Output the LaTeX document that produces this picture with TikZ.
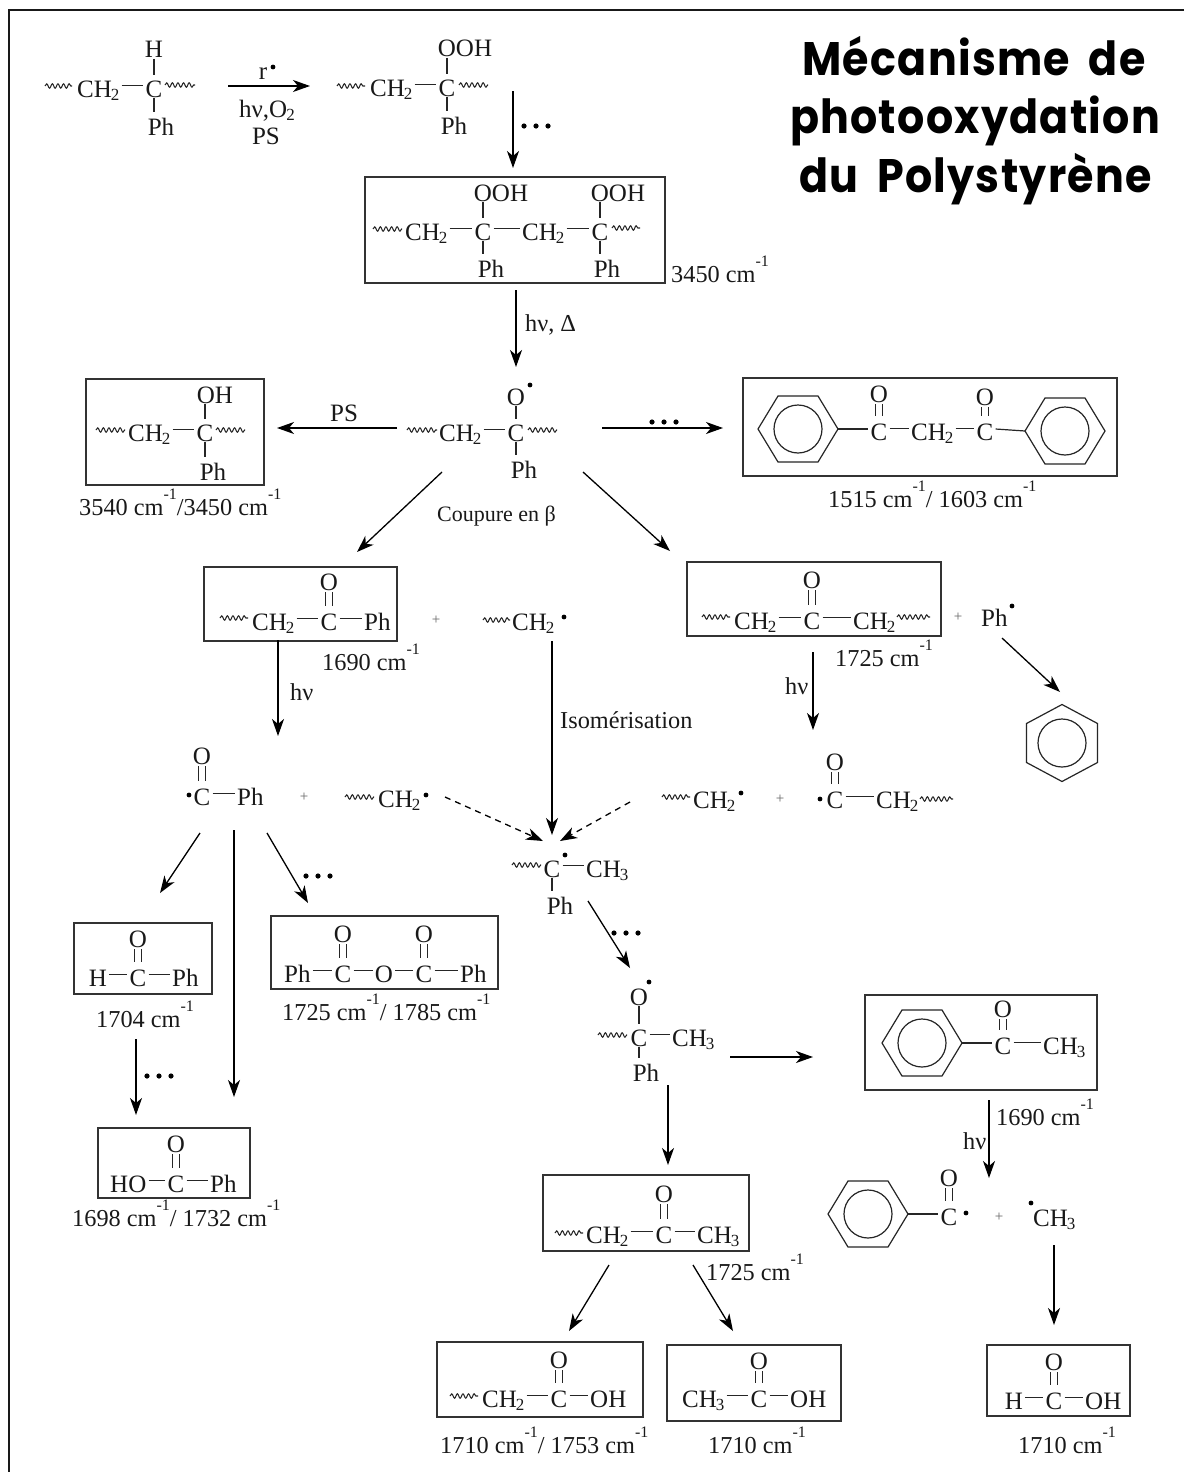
\documentclass[tikz,border=0pt]{standalone}
\usepackage{fontspec}
\setmainfont{Liberation Serif}
\newfontfamily\ttlfont{Poppins}[LetterSpace=3]
\usetikzlibrary{arrows.meta,decorations.pathmorphing,calc}
\tikzset{
  atom/.style={anchor=base,inner sep=0pt,text height=15pt,text depth=0pt,text=black!90,font=\fontsize{25}{28}\selectfont},
  lbl/.style={anchor=base west,inner sep=0pt,text height=15pt,text depth=0pt,text=black!90,font=\fontsize{24.3}{28}\selectfont},
  bond/.style={line width=1.2pt,draw=black!85},
  wav/.style={line width=1.05pt,draw=black!85,decorate,decoration={snake,amplitude=2.2pt,segment length=5.6pt}},
  arr/.style={line width=1.3pt,draw=black,-{Stealth[length=17pt,width=12pt,inset=5pt]}},
  rbox/.style={draw=black!80,line width=1.5pt,inner sep=0pt},
  plusm/.style={anchor=center,inner sep=0pt,text=black!60,font=\fontsize{15}{15}\selectfont},
  ttl/.style={anchor=base,inner sep=0pt,font=\ttlfont\bfseries\fontsize{47}{50}\selectfont},
}
\newcommand\A[4]{\node[atom] (#1) at (#2,#3) {#4};}
\newcommand\AL[4]{\node[atom,anchor=base west] (#1) at (#2,#3) {#4};}
\newcommand\LL[4]{\node[lbl] (#1) at (#2,#3) {#4};}
\newcommand\HB[2]{\draw[bond] ($(#1.base east)+(2pt,11.5pt)$) -- ($(#2.base west)+(-2pt,11.5pt)$);}
\newcommand\UB[2]{\draw[bond] ($(#2.base |- #1.base)+(0pt,-1pt)$) -- ($(#2.base)+(0pt,22pt)$);}
\newcommand\LB[2]{\draw[bond] ($(#1.base)+(0pt,-1pt)$) -- ($(#1.base |- #2.base)+(0pt,23pt)$);}
\newcommand\DB[2]{%
  \draw[bond] ($(#2.base |- #1.base)+(-3.5pt,-2pt)$) -- ($(#2.base)+(-3.5pt,24pt)$);
  \draw[bond] ($(#2.base |- #1.base)+(3.5pt,-2pt)$) -- ($(#2.base)+(3.5pt,24pt)$);}
\newcommand\Rad[2]{\fill[black] (#1,#2) circle[radius=2.4pt];}
\newcommand\Dts[2]{\fill[black] (#1,#2) circle[radius=2.6pt] ({#1+12},#2) circle[radius=2.6pt] ({#1+24},#2) circle[radius=2.6pt];}
\newcommand\Wv[3]{\draw[wav] (#1,#3) -- (#2,#3);}
\newcommand\Ar[5]{\coordinate (#1a) at (#2,#3); \coordinate (#1b) at (#4,#5); \draw[arr] (#1a) -- (#1b);}
\newcommand\ArD[5]{\coordinate (#1a) at (#2,#3); \coordinate (#1b) at (#4,#5); \draw[arr,dash pattern=on 6pt off 5pt] (#1a) -- (#1b);}
\newcommand\Bx[5]{\node[rbox,minimum width={(#4-#2)*1pt},minimum height={(#5-#3)*1pt}] (#1) at ({(#2+#4)/2},{(#3+#5)/2}) {};}
\newcommand\BzF[3]{% flat top
  \draw[bond] ({#2-40},#3) -- ({#2-20},{#3-33}) -- ({#2+20},{#3-33}) -- ({#2+40},#3) -- ({#2+20},{#3+33}) -- ({#2-20},{#3+33}) -- cycle;
  \node[circle,draw=black!85,line width=1.2pt,minimum size=48pt,inner sep=0pt] (#1) at (#2,#3) {};
  \coordinate (#1l) at ({#2-40},#3); \coordinate (#1r) at ({#2+40},#3);}
\newcommand\BzP[3]{% pointed top
  \draw[bond] (#2,{#3-38.5}) -- ({#2+35.5},{#3-19.5}) -- ({#2+35.5},{#3+19.5}) -- (#2,{#3+38.5}) -- ({#2-35.5},{#3+19.5}) -- ({#2-35.5},{#3-19.5}) -- cycle;
  \node[circle,draw=black!85,line width=1.2pt,minimum size=48pt,inner sep=0pt] (#1) at (#2,#3) {};}
\newcommand\CHt{CH\kern-1pt\raisebox{-3pt}{\fontsize{17}{17}\selectfont 2}}
\newcommand\CHh{CH\kern-1pt\raisebox{-3pt}{\fontsize{17}{17}\selectfont 3}}
\newcommand\wn{cm\raisebox{16pt}{\fontsize{16}{16}\selectfont -1}}
\begin{document}
\begin{tikzpicture}[x=1pt,y=-1pt]
\useasboundingbox (0,0) rectangle (1184,1472);
\fill[white] (0,0) rectangle (1184,1472);
% open frame: top and left only
\coordinate (fa) at (1184,10); \coordinate (fb) at (9,10); \coordinate (fc) at (9,1472);
\draw[line width=2pt,black!90] (fa) -- (fb) -- (fc);
% title
\node[ttl] (t1) at (974,75) {\scalebox{.91}[1]{Mécanisme\hspace{.2em} de}};
\node[ttl] (t2) at (975,133) {\scalebox{.91}[1]{photooxydation}};
\node[ttl] (t3) at (975.5,192) {\scalebox{.91}[1]{du\hspace{.2em} Polystyrène}};

% molecule 1
\Wv{45}{72}{86}
\AL{a1}{77}{97}{\CHt}
\A{a2}{154}{97}{C}
\A{a3}{154}{58}{H}
\A{a4}{161}{135}{Ph}
\HB{a1}{a2}
\UB{a3}{a2}
\LB{a2}{a4}
\Wv{165}{195}{85}
% arrow 1
\Ar{r1}{228}{86}{310}{86}
\A{r1t}{263}{80}{r}
\Rad{273}{67}
\A{r1u}{267}{117}{hν,O\kern-1pt\raisebox{-3pt}{\fontsize{17}{17}\selectfont 2}}
\A{r1v}{266}{144}{PS}

% molecule 2
\Wv{337}{365}{86}
\AL{b1}{370}{96}{\CHt}
\A{b2}{447}{96}{C}
\A{b3}{465}{57}{OOH}
\A{b4}{454}{134}{Ph}
\HB{b1}{b2}
\UB{b3}{b2}
\LB{b2}{b4}
\Wv{459}{488}{85}
\Ar{r2}{513}{91}{513}{168}
\Dts{524}{126}

% box OOH
\Bx{c0}{365}{177}{665}{283}
\Wv{373}{402}{229}
\AL{c1}{405}{240}{\CHt}
\A{c2}{483}{240}{C}
\AL{c3}{522}{240}{\CHt}
\A{c4}{600}{240}{C}
\A{c5}{501}{201}{OOH}
\A{c6}{618}{201}{OOH}
\A{c7}{491}{277}{Ph}
\A{c8}{607}{277}{Ph}
\HB{c1}{c2}\HB{c2}{c3}\HB{c3}{c4}
\UB{c5}{c2}\UB{c6}{c4}\LB{c2}{c7}\LB{c4}{c8}
\Wv{612}{640}{228}
\LL{c9}{671}{282}{3450 \wn}
\Ar{r3}{516}{290}{516}{367}
\LL{r3t}{525}{331}{hν, Δ}

% central radical
\A{d1}{516}{405}{O}
\Rad{530}{385}
\Wv{407}{437}{430}
\AL{d2}{439}{441}{\CHt}
\A{d3}{516}{441}{C}
\A{d4}{524}{478}{Ph}
\HB{d2}{d3}\UB{d1}{d3}\LB{d3}{d4}
\Wv{528}{557}{430}
\Ar{r4}{397}{428}{277}{428}
\A{r4t}{344}{421}{PS}
\Ar{r5}{602}{428}{723}{428}
\Dts{652}{422}

% box OH
\Bx{e0}{86}{379}{264}{485}
\Wv{96}{125}{430}
\AL{e1}{128}{441}{\CHt}
\A{e2}{205}{441}{C}
\A{e3}{215}{403}{OH}
\A{e4}{213}{480}{Ph}
\HB{e1}{e2}\UB{e3}{e2}\LB{e2}{e4}
\Wv{216}{245}{430}
\LL{e5}{79}{515}{3540 \wn/3450 \wn}

% box diketone
\Bx{f0}{743}{378}{1117}{476}
\BzF{f1}{798}{429}
\A{f2}{879}{440}{C}
\A{f3}{879}{402}{O}
\AL{f4}{911}{440}{\CHt}
\A{f5}{985}{440}{C}
\A{f6}{985}{405}{O}
\BzF{f7}{1065}{431}
\draw[bond] (f1r) -- ($(f2.base west)+(-2pt,11pt)$);
\HB{f2}{f4}\HB{f4}{f5}
\DB{f3}{f2}\DB{f6}{f5}
\draw[bond] ($(f5.base east)+(2pt,11pt)$) -- (f7l);
\LL{f8}{828}{507}{1515 \wn/ 1603 \wn}

\Ar{r6}{442}{472}{357}{552}
\Ar{r7}{583}{472}{670}{551}
\node[anchor=base west,inner sep=0pt,font=\fontsize{22}{24}\selectfont,text=black!90] (g0) at (437,521) {Coupure en β};

% box acetophenone chain
\Bx{g1}{204}{567}{397}{641}
\Wv{220}{248}{618}
\AL{g2}{252}{630}{\CHt}
\A{g3}{329}{630}{C}
\A{g4}{329}{590}{O}
\AL{g5}{364}{630}{Ph}
\HB{g2}{g3}\HB{g3}{g5}\DB{g4}{g3}
\LL{g6}{322}{670}{1690 \wn}
\node[plusm] (g7) at (436,620) {+};
\Wv{483}{510}{620}
\AL{g8}{512}{630}{\CHt}
\Rad{564}{617}
\Ar{r8}{552}{641}{552}{835}
\LL{r8t}{560}{728}{Isomérisation}

% box ketone
\Bx{h0}{687}{562}{941}{636}
\Wv{702}{730}{617}
\AL{h1}{734}{629}{\CHt}
\A{h2}{812}{629}{C}
\A{h3}{812}{588}{O}
\AL{h4}{853}{629}{\CHt}
\HB{h1}{h2}\HB{h2}{h4}\DB{h3}{h2}
\Wv{897}{930}{617}
\node[plusm] (h5) at (958,617) {+};
\AL{h6}{981}{626}{Ph}
\Rad{1012}{606}
\LL{h7}{835}{666}{1725 \wn}
\Ar{r9}{278}{640}{278}{736}
\LL{r9t}{290}{700}{hν}
\Ar{r10}{813}{652}{813}{730}
\LL{r10t}{785}{694}{hν}
\Ar{r11}{1002}{638}{1060}{692}
\BzP{h8}{1062}{743}

% benzoyl radical row
\A{i1}{202}{764}{O}
\A{i2}{202}{805}{C}
\Rad{189}{795}
\AL{i3}{237}{805}{Ph}
\HB{i2}{i3}\DB{i1}{i2}
\node[plusm] (i4) at (304,797) {+};
\Wv{345}{374}{797}
\AL{i5}{378}{807}{\CHt}
\Rad{426}{795}
\ArD{r12}{445}{797}{543}{841}
\ArD{r13}{630}{802}{560}{841}

\Wv{662}{690}{797}
\AL{j1}{693}{808}{\CHt}
\Rad{741}{793}
\node[plusm] (j2) at (780,799) {+};
\Rad{820}{799}
\A{j3}{835}{808}{C}
\A{j4}{835}{770}{O}
\AL{j5}{876}{808}{\CHt}
\HB{j3}{j5}\DB{j4}{j3}
\Wv{920}{953}{799}

% central C radical
\Wv{512}{541}{865}
\A{k1}{552}{877}{C}
\Rad{565}{855}
\AL{k2}{586}{877}{\CHh}
\A{k3}{560}{914}{Ph}
\HB{k1}{k2}\LB{k1}{k3}
\Ar{r14}{588}{901}{630}{968}
\Dts{614}{933}

% arrows from benzoyl
\Ar{r15}{200}{833}{160}{893}
\Ar{r16}{234}{830}{234}{1097}
\Ar{r17}{267}{833}{308}{903}
\Dts{306}{876}

% benzaldehyde
\Bx{l0}{74}{923}{212}{994}
\A{l1}{138}{947}{O}
\A{l2}{138}{986}{C}
\A{l3}{98}{986}{H}
\AL{l4}{172}{986}{Ph}
\HB{l3}{l2}\HB{l2}{l4}\DB{l1}{l2}
\LL{l5}{96}{1027}{1704 \wn}
\Ar{r18}{136}{1039}{136}{1115}
\Dts{147}{1076}

% benzoic acid
\Bx{m0}{98}{1128}{250}{1198}
\A{m1}{176}{1152}{O}
\A{m2}{176}{1192}{C}
\AL{m3}{110}{1192}{HO}
\AL{m4}{210}{1192}{Ph}
\HB{m3}{m2}\HB{m2}{m4}\DB{m1}{m2}
\LL{m5}{72}{1226}{1698 \wn/ 1732 \wn}

% anhydride
\Bx{n0}{271}{916}{498}{989}
\AL{n1}{284}{982}{Ph}
\A{n2}{343}{982}{C}
\A{n3}{384}{982}{O}
\A{n4}{424}{982}{C}
\AL{n5}{460}{982}{Ph}
\A{n6}{343}{942}{O}
\A{n7}{424}{942}{O}
\HB{n1}{n2}\HB{n2}{n3}\HB{n3}{n4}\HB{n4}{n5}
\DB{n6}{n2}\DB{n7}{n4}
\LL{n8}{282}{1020}{1725 \wn/ 1785 \wn}

% alkoxy
\A{o1}{639}{1005}{O}
\Rad{649}{982}
\Wv{598}{627}{1035}
\A{o2}{639}{1046}{C}
\AL{o3}{672}{1046}{\CHh}
\A{o4}{646}{1081}{Ph}
\HB{o2}{o3}\UB{o1}{o2}\LB{o2}{o4}
\Ar{r19}{730}{1057}{813}{1057}
\Ar{r20}{668}{1085}{668}{1165}

% box acetophenone
\Bx{p0}{865}{995}{1097}{1090}
\BzF{p1}{922}{1043}
\A{p2}{1003}{1054}{C}
\A{p3}{1003}{1017}{O}
\AL{p4}{1043}{1054}{\CHh}
\draw[bond] (p1r) -- ($(p2.base west)+(-2pt,11pt)$);
\HB{p2}{p4}\DB{p3}{p2}
\LL{p5}{996}{1125}{1690 \wn}
\Ar{r21}{989}{1100}{989}{1178}
\LL{r21t}{963}{1149}{hν}

% benzoyl + methyl
\BzF{q1}{868}{1214}
\A{q2}{949}{1225}{C}
\A{q3}{949}{1186}{O}
\Rad{966}{1213}
\draw[bond] (q1r) -- ($(q2.base west)+(-2pt,11pt)$);
\DB{q3}{q2}
\node[plusm] (q4) at (999,1217) {+};
\Rad{1031}{1203}
\AL{q5}{1033}{1226}{\CHh}
\Ar{r22}{1054}{1245}{1054}{1325}

% box methyl ketone
\Bx{s0}{543}{1175}{749}{1251}
\A{s1}{664}{1202}{O}
\Wv{555}{583}{1233}
\AL{s2}{586}{1243}{\CHt}
\A{s3}{664}{1243}{C}
\AL{s4}{697}{1243}{\CHh}
\HB{s2}{s3}\HB{s3}{s4}\DB{s1}{s3}
\LL{s5}{706}{1280}{1725 \wn}
\Ar{r23}{609}{1265}{569}{1331}
\Ar{r24}{693}{1265}{733}{1331}

% acid chain
\Bx{u0}{437}{1342}{643}{1417}
\A{u1}{559}{1368}{O}
\Wv{450}{478}{1396}
\AL{u2}{482}{1407}{\CHt}
\A{u3}{559}{1407}{C}
\AL{u4}{590}{1407}{OH}
\HB{u2}{u3}\HB{u3}{u4}\DB{u1}{u3}
\LL{u5}{440}{1453}{1710 \wn/ 1753 \wn}

% acetic acid
\Bx{v0}{667}{1345}{841}{1421}
\A{v1}{759}{1369}{O}
\AL{v2}{682}{1407}{\CHh}
\A{v3}{759}{1407}{C}
\AL{v4}{790}{1407}{OH}
\HB{v2}{v3}\HB{v3}{v4}\DB{v1}{v3}
\LL{v5}{708}{1453}{1710 \wn}

% formic acid
\Bx{w0}{987}{1345}{1130}{1416}
\A{w1}{1054}{1370}{O}
\A{w2}{1014}{1409}{H}
\A{w3}{1054}{1409}{C}
\AL{w4}{1085}{1409}{OH}
\HB{w2}{w3}\HB{w3}{w4}\DB{w1}{w3}
\LL{w5}{1018}{1453}{1710 \wn}
\end{tikzpicture}
\end{document}
